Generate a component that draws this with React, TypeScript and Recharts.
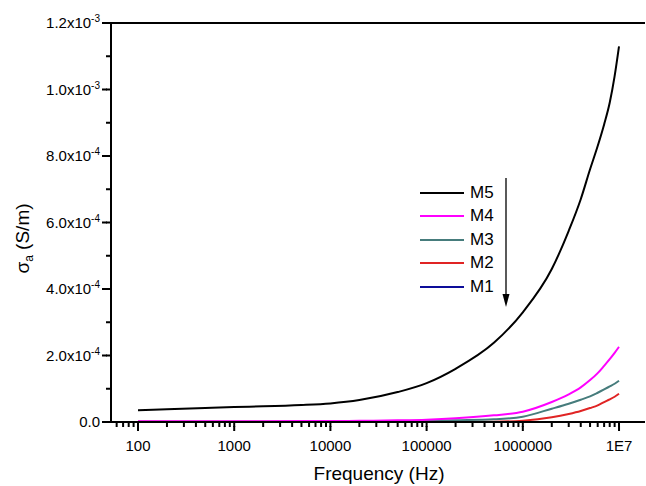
import React from 'react';
import { Legend, Line, LineChart, ReferenceLine, XAxis, YAxis } from 'recharts';

// frequency (Hz) and conductivity sigma_a (S/m)
const freq = [100, 200, 500, 1000, 2000, 5000, 1e4, 2e4, 5e4, 1e5, 2e5, 5e5, 1e6, 2e6, 3e6, 4e6, 5e6, 6e6, 7e6, 8e6, 9e6, 1e7];
const m5 = [0.35e-4, 0.38e-4, 0.42e-4, 0.45e-4, 0.47e-4, 0.51e-4, 0.56e-4, 0.66e-4, 0.9e-4, 1.17e-4, 1.6e-4, 2.38e-4, 3.3e-4, 4.6e-4, 5.75e-4, 6.7e-4, 7.6e-4, 8.3e-4, 8.95e-4, 9.6e-4, 10.4e-4, 11.3e-4];
const m4 = [0.02e-4, 0.02e-4, 0.02e-4, 0.02e-4, 0.025e-4, 0.03e-4, 0.03e-4, 0.035e-4, 0.05e-4, 0.07e-4, 0.11e-4, 0.2e-4, 0.31e-4, 0.6e-4, 0.83e-4, 1.04e-4, 1.26e-4, 1.47e-4, 1.69e-4, 1.89e-4, 2.08e-4, 2.26e-4];
const m3 = [0.01e-4, 0.01e-4, 0.01e-4, 0.01e-4, 0.01e-4, 0.01e-4, 0.01e-4, 0.015e-4, 0.02e-4, 0.03e-4, 0.05e-4, 0.08e-4, 0.16e-4, 0.4e-4, 0.55e-4, 0.67e-4, 0.77e-4, 0.88e-4, 0.98e-4, 1.07e-4, 1.15e-4, 1.24e-4];
const m2 = [0.005e-4, 0.005e-4, 0.005e-4, 0.005e-4, 0.005e-4, 0.005e-4, 0.005e-4, 0.005e-4, 0.005e-4, 0.005e-4, 0.008e-4, 0.01e-4, 0.04e-4, 0.14e-4, 0.24e-4, 0.33e-4, 0.42e-4, 0.5e-4, 0.6e-4, 0.68e-4, 0.76e-4, 0.85e-4];
const m1 = [0.002e-4, 0.002e-4, 0.002e-4, 0.002e-4, 0.002e-4, 0.002e-4, 0.002e-4, 0.002e-4, 0.002e-4, 0.002e-4, 0.002e-4, 0.002e-4, 0.002e-4, 0.002e-4, 0.002e-4, 0.002e-4, 0.002e-4, 0.002e-4, 0.002e-4, 0.002e-4, 0.002e-4, 0.002e-4];

const seriesNames = ['M1', 'M2', 'M3', 'M4', 'M5'];
const seriesColors = ['#0d0d99', '#e02424', '#467c7c', '#ff00ff', '#000000'];
const seriesValues = [m1, m2, m3, m4, m5];

const xMajor = [100, 1000, 10000, 100000, 1000000, 10000000];
const xTickText = ['100', '1000', '10000', '100000', '1000000', '1E7'];
const xMinorMult = [2, 3, 4, 5, 6, 7, 8, 9];

const yMajor = [0, 2e-4, 4e-4, 6e-4, 8e-4, 1e-3, 1.2e-3];
const yMantissa = ['0.0', '2.0', '4.0', '6.0', '8.0', '1.0', '1.2'];
const yExponent = ['', '-4', '-4', '-4', '-4', '-3', '-3'];
const yMinor = [1e-4, 3e-4, 5e-4, 7e-4, 9e-4, 1.1e-3];

const font = '"Liberation Sans", Arial, sans-serif';

const data = freq.map((f, i) => {
  const row: Record<string, number> = { f };
  seriesNames.forEach((n, k) => {
    row[n] = seriesValues[k][i];
  });
  return row;
});

const xTicks: number[] = [];
[10, 100, 1000, 1e4, 1e5, 1e6, 1e7].forEach((d) => {
  if (d >= 100) xTicks.push(d);
  xMinorMult.forEach((m) => {
    const v = m * d;
    if (v > 52.4 && v < 1.86e7) xTicks.push(v);
  });
});
const yTicks = [...yMajor, ...yMinor].sort((a, b) => a - b);

const near = (a: number, b: number) => Math.abs(a - b) <= Math.abs(b) * 1e-6 + 1e-12;

// every tick gets recharts' 5px tickLine; major ones get 4px more drawn here
function XTick(props: any) {
  const { x, y, payload } = props;
  const i = xMajor.findIndex((m) => near(payload.value, m));
  if (i < 0) return <g />;
  return (
    <g>
      <rect x={x - 1} y={y - 1} width={2} height={5} fill="#000" />
      <text x={x} y={y + 24} textAnchor="middle" fontSize={15} fontFamily={font} fill="#000">
        {xTickText[i]}
      </text>
    </g>
  );
}

function YTick(props: any) {
  const { x, y, payload } = props;
  const i = yMajor.findIndex((m) => near(payload.value, m));
  if (i < 0) return <g />;
  return (
    <g>
      <rect x={x - 4} y={y - 1} width={5} height={2} fill="#000" />
      <text x={x - 6} y={y + 5} textAnchor="end" fontSize={15} fontFamily={font} fill="#000">
        {yMantissa[i]}
        {yExponent[i] && (
          <>
            <tspan>x10</tspan>
            <tspan fontSize={10} dy={-6}>
              {yExponent[i]}
            </tspan>
          </>
        )}
      </text>
    </g>
  );
}

function LegendBox(props: any) {
  const items = [...(props.payload ?? [])].sort((a, b) => String(b.value).localeCompare(String(a.value)));
  return (
    <div style={{ fontFamily: font, fontSize: 17, color: '#000' }}>
      {items.map((p) => (
        <div key={p.value} style={{ display: 'flex', alignItems: 'center', height: 23.5 }}>
          <span style={{ display: 'inline-block', width: 44, height: 2, background: p.color, marginRight: 6 }} />
          <span>{p.value}</span>
        </div>
      ))}
    </div>
  );
}

export default function App() {
  return (
    <div style={{ position: 'absolute', left: 0, top: 0, width: 646, height: 486, background: '#fff' }}>
      <LineChart width={646} height={486} data={data} margin={{ top: 23, right: 1, left: 0, bottom: 0 }}>
        <XAxis
          dataKey="f"
          type="number"
          scale="log"
          domain={[52.4, 1.862e7]}
          allowDataOverflow
          ticks={xTicks}
          interval={0}
          height={64}
          tickSize={5}
          tickMargin={0}
          tickLine={{ stroke: '#000', strokeWidth: 2 }}
          axisLine={{ stroke: '#000', strokeWidth: 2 }}
          tick={(p: any) => <XTick {...p} />}
          label={(p: any) => {
            const vb = p.viewBox;
            return (
              <text x={vb.x + vb.width / 2 + 1} y={vb.y + 58} textAnchor="middle" fontSize={19} fontFamily={font} fill="#000">
                Frequency (Hz)
              </text>
            );
          }}
        />
        <YAxis
          type="number"
          domain={[0, 0.0012]}
          allowDataOverflow
          ticks={yTicks}
          interval={0}
          width={111}
          tickSize={5}
          tickMargin={0}
          tickLine={{ stroke: '#000', strokeWidth: 2 }}
          axisLine={{ stroke: '#000', strokeWidth: 2 }}
          tick={(p: any) => <YTick {...p} />}
          label={(p: any) => {
            const vb = p.viewBox;
            const cx = 29;
            const cy = vb.y + vb.height / 2 + 16;
            return (
              <text x={cx} y={cy} transform={`rotate(-90 ${cx} ${cy})`} textAnchor="middle" fontSize={19} fontFamily={font} fill="#000">
                σ
                <tspan fontSize={12} dy={4}>a</tspan>
                <tspan dy={-4}> (S/m)</tspan>
              </text>
            );
          }}
        />
        <ReferenceLine y={0.0012} stroke="#000" strokeWidth={2} />
        {seriesNames.map((n, k) => (
          <Line
            key={n}
            dataKey={n}
            name={n}
            type="monotone"
            stroke={seriesColors[k]}
            strokeWidth={2}
            dot={false}
            isAnimationActive={false}
          />
        ))}
        <Legend
          layout="horizontal"
          verticalAlign="middle"
          align="center"
          content={(p: any) => <LegendBox {...p} />}
          wrapperStyle={{ left: 420, top: 181, width: 'auto', height: 'auto' }}
        />
      </LineChart>
      <svg width={646} height={486} style={{ position: 'absolute', left: 0, top: 0, pointerEvents: 'none' }}>
        <line x1={506} x2={506} y1={178} y2={300} stroke="#000" strokeWidth={1.3} />
        <path d="M502.5,294 L506,307 L509.5,294 Z" fill="#000" />
      </svg>
    </div>
  );
}
